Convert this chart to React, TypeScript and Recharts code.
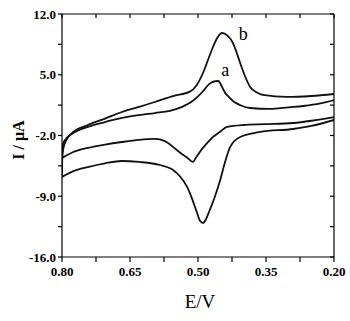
import { LineChart, Line, XAxis, YAxis, ReferenceDot } from "recharts";

// cyclic voltammograms: forward (anodic) scan 0.80 -> 0.20 V, reverse scan 0.20 -> 0.80 V
const aForwardE = [
  0.8, 0.7995, 0.797, 0.79, 0.775, 0.743, 0.705, 0.668, 0.63, 0.595, 0.562, 0.535, 0.515, 0.5,
  0.489, 0.475, 0.462, 0.455, 0.448, 0.44, 0.432, 0.423, 0.405, 0.385, 0.341, 0.3, 0.268, 0.23, 0.2,
];
const aForwardI = [
  -4.59, -3.6, -2.9, -2.3, -1.7, -1.0, -0.45, 0.02, 0.35, 0.59, 0.85, 1.3, 1.85, 2.5,
  3.1, 3.95, 4.25, 4.28, 3.7, 2.9, 2.44, 1.98, 1.46, 1.17, 1.06, 1.25, 1.4, 1.7, 2.09,
];
const aReverseE = [
  0.2, 0.25, 0.29, 0.35, 0.401, 0.436, 0.452, 0.467, 0.482, 0.496, 0.505, 0.511, 0.525,
  0.54, 0.553, 0.566, 0.595, 0.63, 0.668, 0.705, 0.743, 0.775, 0.8,
];
const aReverseI = [
  0.13, -0.3, -0.56, -0.7, -0.79, -1.02, -1.6, -2.17, -3.0, -3.9, -4.6, -5.05, -4.5,
  -3.95, -3.4, -2.86, -2.4, -2.5, -2.75, -3.05, -3.44, -3.9, -4.59,
];

const bForwardE = [
  0.8, 0.7995, 0.797, 0.79, 0.775, 0.743, 0.705, 0.668, 0.63, 0.595, 0.555, 0.518, 0.503, 0.489,
  0.478, 0.467, 0.457, 0.447, 0.435, 0.423, 0.415, 0.407, 0.396, 0.385, 0.37, 0.357, 0.304,
  0.25, 0.2,
];
const bForwardI = [
  -6.78, -4.8, -3.5, -2.5, -1.6, -0.79, -0.05, 0.71, 1.3, 1.86, 2.55, 3.05, 3.8, 5.2,
  6.7, 8.2, 9.3, 9.81, 9.5, 8.66, 7.6, 6.35, 4.8, 3.59, 2.95, 2.67, 2.44,
  2.55, 2.78,
];
const bReverseE = [
  0.2, 0.25, 0.29, 0.363, 0.407, 0.429, 0.44, 0.451, 0.463, 0.474, 0.482, 0.489, 0.496, 0.502,
  0.513, 0.524, 0.54, 0.555, 0.584, 0.63, 0.668, 0.705, 0.743, 0.775, 0.8,
];
const bReverseI = [
  -0.21, -0.9, -1.25, -1.59, -2.17, -3.32, -5.0, -7.12, -9.08, -10.58, -11.6, -12.08, -11.8, -10.93,
  -9.3, -7.93, -6.7, -5.97, -5.4, -5.05, -4.94, -5.2, -5.63, -6.1, -6.78,
];

const xTicks = [0.2, 0.275, 0.35, 0.425, 0.5, 0.575, 0.65, 0.725, 0.8];
const xLabelled = [0.2, 0.35, 0.5, 0.65, 0.8];
const yTicks = [-16, -12.5, -9, -5.5, -2, 1.5, 5, 8.5, 12];
const yLabelled = [-16, -9, -2, 5, 12];

const toPoints = (es: number[], is: number[]) => es.map((e, k) => ({ e, i: is[k] }));
const branches = [
  toPoints(aForwardE, aForwardI),
  toPoints(aReverseE, aReverseI),
  toPoints(bForwardE, bForwardI),
  toPoints(bReverseE, bReverseI),
];

const isIn = (list: number[], v: number) => list.some((t) => Math.abs(t - v) < 1e-6);
const fmtX = (v: number) => (isIn(xLabelled, v) ? v.toFixed(2) : "");
const fmtY = (v: number) => (isIn(yLabelled, v) ? v.toFixed(1) : "");

const font = "'Liberation Serif', 'Times New Roman', serif";
const tickStyle = { fontFamily: font, fontSize: 13, fontWeight: 700, fill: "#000" };
const axisLine = { stroke: "#000", strokeWidth: 1.2 };

export default function App() {
  return (
    <div style={{ position: "absolute", left: 0, top: 0, background: "#fff" }}>
      <LineChart width={350} height={321} margin={{ top: 14, right: 16, left: 0, bottom: 0 }}>
        <XAxis
          xAxisId="bottom"
          type="number"
          dataKey="e"
          domain={[0.2, 0.8]}
          reversed
          allowDataOverflow
          ticks={xTicks}
          tickFormatter={fmtX}
          interval={0}
          height={64}
          tickSize={5}
          tickMargin={5}
          tick={tickStyle}
          axisLine={axisLine}
          tickLine={axisLine}
        />
        <XAxis
          xAxisId="top"
          orientation="top"
          type="number"
          dataKey="e"
          domain={[0.2, 0.8]}
          reversed
          allowDataOverflow
          ticks={xTicks}
          tickFormatter={() => ""}
          interval={0}
          mirror
          tickSize={4}
          axisLine={axisLine}
          tickLine={axisLine}
        />
        <YAxis
          yAxisId="left"
          type="number"
          domain={[-16, 12]}
          allowDataOverflow
          ticks={yTicks}
          tickFormatter={fmtY}
          interval={0}
          width={62}
          tickSize={4}
          tickMargin={2}
          tick={tickStyle}
          axisLine={axisLine}
          tickLine={axisLine}
        />
        <YAxis
          yAxisId="right"
          orientation="right"
          type="number"
          domain={[-16, 12]}
          allowDataOverflow
          ticks={yTicks}
          tickFormatter={() => ""}
          interval={0}
          mirror
          tickSize={4}
          axisLine={axisLine}
          tickLine={axisLine}
        />
        {branches.map((pts, k) => (
          <Line
            key={k}
            xAxisId="bottom"
            yAxisId="left"
            data={pts}
            dataKey="i"
            type="monotone"
            stroke="#111"
            strokeWidth={1.8}
            dot={false}
            isAnimationActive={false}
          />
        ))}
        <ReferenceDot
          xAxisId="bottom"
          yAxisId="left"
          x={0.44}
          y={5.55}
          r={0}
          label={{ value: "a", position: "center", fontFamily: font, fontSize: 18, fill: "#000" }}
        />
        <ReferenceDot
          xAxisId="bottom"
          yAxisId="left"
          x={0.4}
          y={9.7}
          r={0}
          label={{ value: "b", position: "center", fontFamily: font, fontSize: 18, fill: "#000" }}
        />
        <text x={200} y={308} textAnchor="middle" fontFamily={font} fontSize={19} fill="#000">
          E/V
        </text>
        <text
          x={24}
          y={140}
          transform="rotate(-90 24 140)"
          textAnchor="middle"
          fontFamily={font}
          fontSize={16}
          fontWeight={700}
          fill="#000"
        >
          I / μA
        </text>
      </LineChart>
    </div>
  );
}
